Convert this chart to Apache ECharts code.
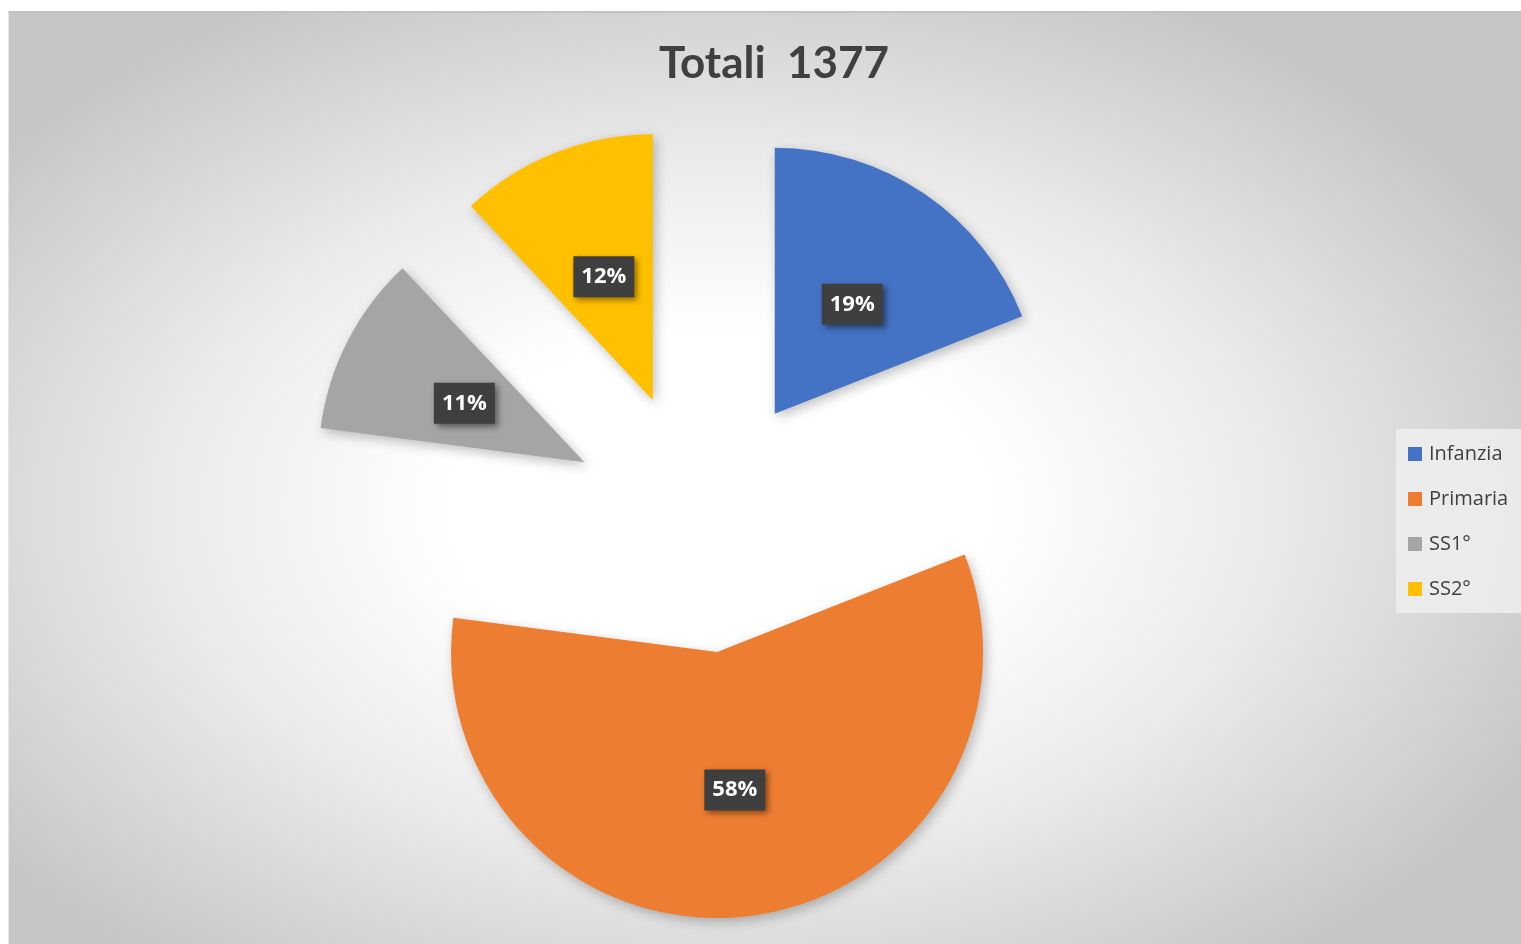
<!DOCTYPE html>
<html>
<head>
<meta charset="utf-8">
<script src="https://cdn.jsdelivr.net/npm/echarts@6/dist/echarts.min.js"></script>
<style>
  html, body { margin: 0; padding: 0; background: #fff; }
  #frame {
    position: absolute; left: 8px; top: 11px; width: 1513px; height: 933px;
    border-top: 2px solid #c2c2c2; border-left: 1px solid #e6e6e6;
    box-sizing: border-box;
    background: radial-gradient(ellipse 60% 62% at 47% 53%, #ffffff 0%, #ffffff 30%, #ebebeb 60%, #c6c6c6 100%);
  }
  #chart { position: absolute; left: 0; top: 0; width: 1521px; height: 944px; }
</style>
</head>
<body>
<div id="frame"></div>
<div id="chart"></div>
<script>
// dati
let categorie = ["Infanzia", "Primaria", "SS1°", "SS2°"];
let valori = [262, 799, 151, 165];
let colori = ["#4472C4", "#ED7D31", "#A5A5A5", "#FFC000"];
let titolo = "Totali  1377";

let myChart = echarts.init(document.getElementById("chart"));

let dati = [];
for (let i = 0; i < categorie.length; i++) {
    dati.push({
        name: categorie[i],
        value: valori[i],
        selected: true,
        itemStyle: { color: colori[i] }
    });
}

let option = {
    title: {
        text: titolo,
        left: 769,
        top: 37,
        textAlign: "center",
        textStyle: {
            fontFamily: "Lato",
            fontWeight: "bold",
            fontSize: 44,
            color: "#404040"
        }
    },
    legend: {
        orient: "vertical",
        left: 1396,
        top: 429,
        padding: [15, 20, 14, 12],
        itemWidth: 14,
        itemHeight: 14,
        itemGap: 25,
        icon: "rect",
        backgroundColor: "rgba(238,238,238,0.85)",
        textStyle: {
            fontFamily: "Open Sans",
            fontSize: 20,
            color: "#404040",
            padding: [0, 0, 0, 2]
        },
        data: categorie
    },
    series: [{
        type: "pie",
        center: [701, 522],
        radius: 266,
        startAngle: 90,
        selectedMode: "multiple",
        selectedOffset: 131,
        animation: false,
        data: dati,
        itemStyle: {
            shadowBlur: 12,
            shadowOffsetX: 3,
            shadowOffsetY: 4,
            shadowColor: "rgba(0,0,0,0.25)"
        },
        select: {
            itemStyle: {}
        },
        emphasis: { disabled: true },
        label: {
            show: true,
            position: "inside",
            formatter: function (p) { return Math.round(p.percent) + "%"; },
            fontFamily: "Open Sans",
            fontWeight: "bold",
            fontSize: 22,
            color: "#ffffff",
            backgroundColor: "#3f3f3f",
            padding: [10, 8, 9, 8],
            shadowBlur: 6,
            shadowOffsetX: 3,
            shadowOffsetY: 3,
            shadowColor: "rgba(0,0,0,0.45)"
        },
        labelLayout: { dx: 1, dy: 3 },
        labelLine: { show: false }
    }]
};
myChart.setOption(option);
</script>
</body>
</html>
